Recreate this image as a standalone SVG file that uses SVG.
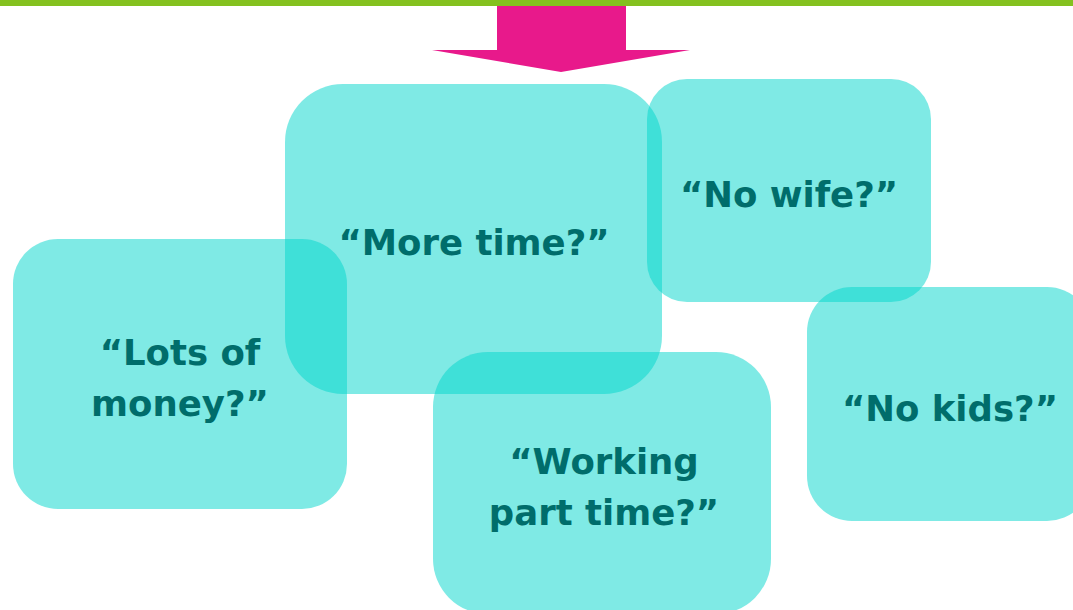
<svg xmlns="http://www.w3.org/2000/svg" width="1073" height="610" viewBox="0 0 1073 610">
<style>
.box{fill:#00D5CB;fill-opacity:0.5}
.lbl{font-family:"DejaVu Sans","Liberation Sans",sans-serif;font-weight:bold;font-size:35.5px;fill:#006D6B;text-anchor:middle}
</style>
<rect x="0" y="0" width="1073" height="610" fill="#ffffff"/>
<rect id="topbar" x="0" y="0" width="1073" height="6" fill="#84C11F"/>
<g id="connectors">
<path d="M497 6 H626 V50 H690 L561 72 L432 50 H497 Z" fill="#E8198B"/>
</g>
<g id="more-time"><rect class="box" x="285" y="84" width="377" height="310" rx="58"/></g>
<g id="no-wife"><rect class="box" x="647" y="79" width="284" height="223" rx="40"/></g>
<g id="lots-of-money"><rect class="box" x="13" y="239" width="334" height="270" rx="45"/></g>
<g id="working-part-time"><rect class="box" x="433" y="352" width="338" height="262" rx="55"/></g>
<g id="no-kids"><rect class="box" x="807" y="287" width="285" height="234" rx="45"/></g>
<g id="labels">
<text class="lbl" x="474" y="255">“More time?”</text>
<text class="lbl" x="789" y="207">“No wife?”</text>
<text class="lbl" x="180" y="365">“Lots of</text>
<text class="lbl" x="180" y="416">money?”</text>
<text class="lbl" x="604" y="474">“Working</text>
<text class="lbl" x="604" y="525">part time?”</text>
<text class="lbl" x="950" y="421">“No kids?”</text>
</g>
</svg>
